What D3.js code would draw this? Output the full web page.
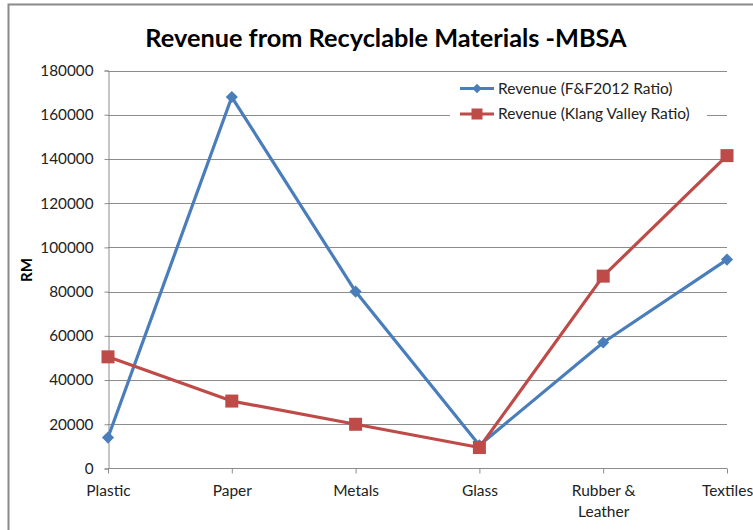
<!DOCTYPE html>
<html><head><meta charset="utf-8">
<script src="https://cdn.jsdelivr.net/npm/d3@7"></script>
<style>body{margin:0;background:#fff;}svg{display:block;font-family:Lato,"Open Sans",sans-serif;}</style>
</head><body>
<svg id="c" width="753" height="530"></svg>
<script>
const categories = ["Plastic","Paper","Metals","Glass","Rubber & Leather","Textiles"];
const seriesNames = ["Revenue (F&F2012 Ratio)","Revenue (Klang Valley Ratio)"];
const revenueFF2012 = [14000,168000,80000,10500,57000,94500];
const revenueKlang = [50500,30500,20000,9500,87000,141500];
const yTicks = [0,20000,40000,60000,80000,100000,120000,140000,160000,180000];
const titleText = "Revenue from Recyclable Materials -MBSA";
const yLabel = "RM";

const svg = d3.select("#c");
const blue = "#4a7ebb", red = "#be4b48", grid = "#8c8c8c";
const x = d3.scalePoint().domain(categories).range([108, 727]);
const y = d3.scaleLinear().domain([0,180000]).range([468.5, 70.5]);

// chart border
svg.append("path").attr("d","M8.5,530 V4.5 H753").attr("fill","none").attr("stroke","#8a8a8a").attr("stroke-width",2);

// title
svg.append("text").attr("x",386).attr("y",47).attr("text-anchor","middle")
  .attr("font-size",25.3).attr("font-weight","bold").attr("fill","#000").text(titleText);

// gridlines
svg.append("g").selectAll("line").data(yTicks.filter(d=>d>0)).join("line")
  .attr("x1",108).attr("x2",727).attr("y1",d=>Math.round(y(d))+0.5).attr("y2",d=>Math.round(y(d))+0.5)
  .attr("stroke",grid).attr("stroke-width",1);

// y axis
const ya = svg.append("g").attr("transform","translate(108.5,0)")
  .call(d3.axisLeft(y).tickValues(yTicks).tickSize(4).tickPadding(11).tickFormat(d3.format("d")));
ya.select(".domain").attr("stroke",grid);
ya.selectAll(".tick line").attr("stroke",grid);
ya.selectAll("text").attr("font-size",15.3).attr("fill","#222").attr("font-family","Lato,'Open Sans',sans-serif");

// x axis
const xa = svg.append("g").attr("transform","translate(0,468.5)")
  .call(d3.axisBottom(x).tickSize(5).tickPadding(11));
xa.select(".domain").attr("stroke",grid).attr("d","M108,0H727");
xa.selectAll(".tick line").attr("stroke",grid);
xa.selectAll(".tick text").attr("font-size",15.5).attr("fill","#222").attr("font-family","Lato,'Open Sans',sans-serif")
  .each(function(d){
    const t = d3.select(this);
    if (d === "Rubber & Leather") {
      t.text(null);
      t.append("tspan").attr("x",0).attr("dy","0.71em").text("Rubber &");
      t.append("tspan").attr("x",0).attr("dy","1.4em").text("Leather");
      t.attr("dy",null);
    }
  });

// y label
svg.append("text").attr("transform","translate(32,270) rotate(-90)").attr("text-anchor","middle")
  .attr("font-size",15).attr("font-weight","bold").attr("fill","#000").text(yLabel);

const line = d3.line().x((d,i)=>x(categories[i])).y(d=>y(d));
svg.append("path").datum(revenueFF2012).attr("d",line).attr("fill","none").attr("stroke",blue).attr("stroke-width",3.2).attr("stroke-linejoin","round");
svg.append("path").datum(revenueKlang).attr("d",line).attr("fill","none").attr("stroke",red).attr("stroke-width",3.2).attr("stroke-linejoin","round");

svg.append("g").selectAll("path").data(revenueFF2012).join("path")
  .attr("d",d3.symbol().type(d3.symbolSquare).size(74))
  .attr("transform",(d,i)=>`translate(${x(categories[i])},${y(d)}) rotate(45)`).attr("fill",blue);
svg.append("g").selectAll("rect").data(revenueKlang).join("rect")
  .attr("x",(d,i)=>x(categories[i])-6.5).attr("y",d=>y(d)-6.5).attr("width",13).attr("height",13).attr("fill",red);

// legend
const lg = svg.append("g");
lg.append("rect").attr("x",450).attr("y",76).attr("width",257).attr("height",50).attr("fill","#fff");
const lys = [88.5,114];
[blue,red].forEach((c,i)=>{
  lg.append("line").attr("x1",460).attr("x2",494).attr("y1",lys[i]).attr("y2",lys[i]).attr("stroke",c).attr("stroke-width",3.2);
  if(i===0) lg.append("path").attr("d",d3.symbol().type(d3.symbolSquare).size(44)).attr("transform",`translate(477,${lys[i]}) rotate(45)`).attr("fill",c);
  else lg.append("rect").attr("x",471.5).attr("y",lys[i]-5.5).attr("width",11).attr("height",11).attr("fill",c);
  lg.append("text").attr("x",498).attr("y",lys[i]).attr("dy","0.35em").attr("font-size",15.5).attr("fill","#222").text(seriesNames[i]);
});
</script>
</body></html>
